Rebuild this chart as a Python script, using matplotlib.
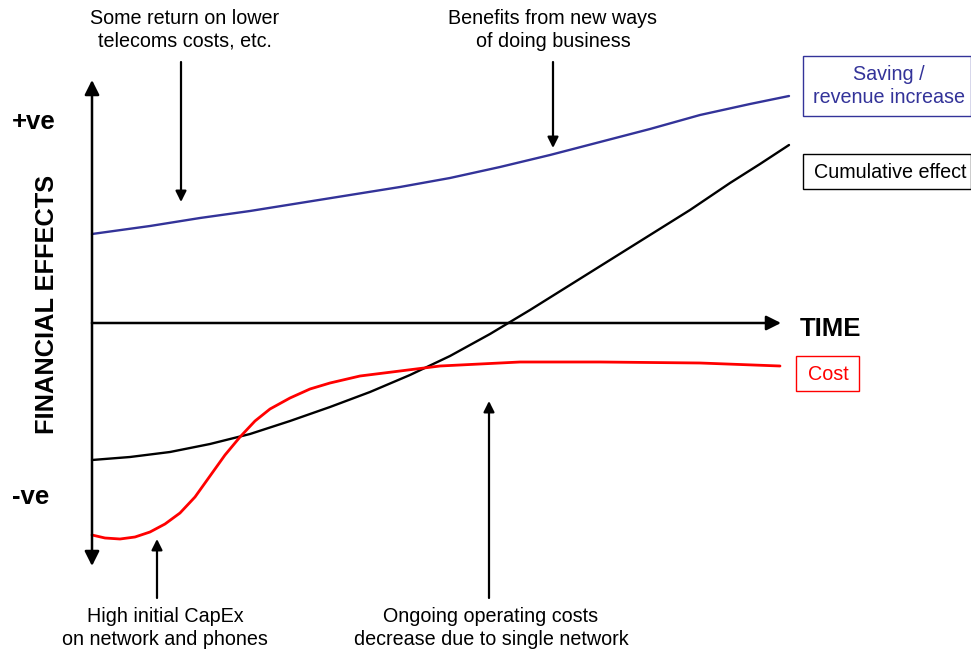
import matplotlib
matplotlib.use("Agg")
import matplotlib.pyplot as plt
from matplotlib.patches import Rectangle

plt.rcParams['font.family'] = ['Liberation Sans', 'DejaVu Sans']

# Curves (pixel coordinates, y grows downwards)
saving_x = [92, 150, 200, 250, 300, 350, 400, 450, 500, 550, 600, 650, 700, 750, 789]
saving_y = [234, 226, 218, 211, 203, 195, 187, 178, 167, 155, 142, 129, 115, 104, 96]

cum_x = [92, 130, 170, 210, 250, 290, 330, 370, 410, 450, 490, 530, 570, 610, 650, 690, 730, 760, 789]
cum_y = [460, 457, 452, 444, 434, 421, 407, 392, 375, 356, 334, 310, 285, 260, 235, 210, 183, 164, 145]

cost_x = [92, 105, 120, 135, 150, 165, 180, 195, 210, 225, 240, 255, 270, 290, 310, 330, 360, 400, 440, 480, 520, 600, 700, 780]
cost_y = [535, 538, 539, 537, 532, 524, 513, 497, 476, 455, 437, 421, 409, 398, 389, 383, 376, 371, 366, 364, 362, 362, 363, 366]

fig = plt.figure(figsize=(9.71, 6.54), dpi=100)
ax = fig.add_axes([0, 0, 1, 1])
ax.set_xlim(0, 971)
ax.set_ylim(654, 0)
ax.axis('off')

arrow_kw = dict(arrowstyle='-|>', color='black', lw=1.8, mutation_scale=22, shrinkA=0, shrinkB=0)
small_arrow = dict(arrowstyle='-|>', color='black', lw=1.6, mutation_scale=16, shrinkA=0, shrinkB=0)

# Axes arrows
ax.annotate('', xy=(92, 80), xytext=(92, 323), arrowprops=arrow_kw)
ax.annotate('', xy=(92, 566), xytext=(92, 323), arrowprops=arrow_kw)
ax.annotate('', xy=(781, 323), xytext=(92, 323), arrowprops=arrow_kw)

# Curves
ax.plot(saving_x, saving_y, color='#333399', lw=1.7, solid_capstyle='round')
ax.plot(cum_x, cum_y, color='black', lw=1.7, solid_capstyle='round')
ax.plot(cost_x, cost_y, color='#ff0000', lw=2.0, solid_capstyle='round')

# Annotation arrows
ax.annotate('', xy=(181, 202), xytext=(181, 62), arrowprops=small_arrow)
ax.annotate('', xy=(553, 148), xytext=(553, 62), arrowprops=small_arrow)
ax.annotate('', xy=(157, 539), xytext=(157, 598), arrowprops=small_arrow)
ax.annotate('', xy=(489, 401), xytext=(489, 598), arrowprops=small_arrow)

fs = 14.2
ls = 1.25
ax.text(185, 30, 'Some return on lower\ntelecoms costs, etc.', ha='center', va='center', fontsize=fs, linespacing=ls)
ax.text(553, 30, 'Benefits from new ways\nof doing business', ha='center', va='center', fontsize=fs, linespacing=ls)
ax.text(165, 628, 'High initial CapEx\non network and phones', ha='center', va='center', fontsize=fs, linespacing=ls)
ax.text(491, 628, 'Ongoing operating costs\ndecrease due to single network', ha='center', va='center', fontsize=fs, linespacing=ls)

ax.text(12, 122, '+ve', ha='left', va='center', fontsize=18.5, fontweight='bold')
ax.text(12, 497, '-ve', ha='left', va='center', fontsize=18.5, fontweight='bold')
ax.text(47, 304, 'FINANCIAL EFFECTS', ha='center', va='center', rotation=90, fontsize=18.3, fontweight='bold')
ax.text(800, 329, 'TIME', ha='left', va='center', fontsize=18.5, fontweight='bold')

# Legend-like boxes
ax.add_patch(Rectangle((803, 56), 168, 60, fc='white', ec='#333399', lw=1, clip_on=False))
ax.text(889, 86, 'Saving /\nrevenue increase', ha='center', va='center', fontsize=fs, color='#333399',
        linespacing=ls)
ax.add_patch(Rectangle((803, 154), 168, 35, fc='white', ec='black', lw=1, clip_on=False))
ax.text(890, 172, 'Cumulative effect', ha='center', va='center', fontsize=fs, color='black')
ax.add_patch(Rectangle((796, 356), 63, 35, fc='white', ec='#ff0000', lw=1, clip_on=False))
ax.text(828, 374, 'Cost', ha='center', va='center', fontsize=fs, color='#ff0000')

fig.savefig('out.png', dpi=100)
